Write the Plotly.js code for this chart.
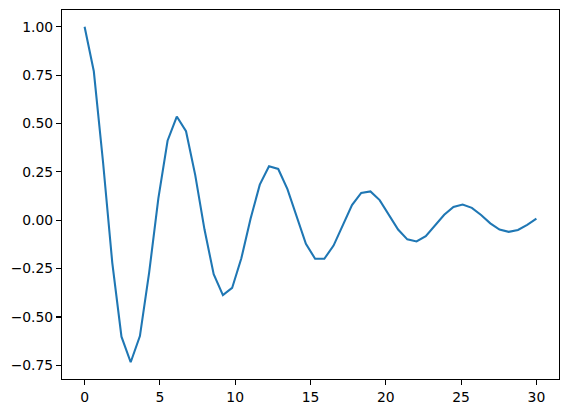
<!DOCTYPE html>
<html>
<head>
<meta charset="utf-8">
<script src="https://cdn.plot.ly/plotly-3.0.1.min.js"></script>
<style>
  html, body { margin: 0; padding: 0; background: #fff; }
  #chart { width: 568px; height: 413px; }
</style>
</head>
<body>
<div id="chart"></div>
<script>
/* ── Data: 50 samples ──────────────────────────────────────── */
const xs = [
  0.000, 0.612, 1.224, 1.837, 2.449, 3.061, 3.673, 4.286, 4.898, 5.510,
  6.122, 6.735, 7.347, 7.959, 8.571, 9.184, 9.796, 10.408, 11.020, 11.633,
  12.245, 12.857, 13.469, 14.082, 14.694, 15.306, 15.918, 16.531, 17.143, 17.755,
  18.367, 18.980, 19.592, 20.204, 20.816, 21.429, 22.041, 22.653, 23.265, 23.878,
  24.490, 25.102, 25.714, 26.327, 26.939, 27.551, 28.163, 28.776, 29.388, 30.000
];
const ys = [
  1.000, 0.770, 0.301, -0.219, -0.602, -0.734, -0.599, -0.271, 0.113, 0.411,
  0.536, 0.460, 0.233, -0.047, -0.279, -0.387, -0.350, -0.197, 0.008, 0.184,
  0.279, 0.265, 0.161, 0.014, -0.122, -0.199, -0.199, -0.131, -0.024, 0.078,
  0.141, 0.149, 0.104, 0.028, -0.048, -0.099, -0.110, -0.082, -0.029, 0.028,
  0.069, 0.081, 0.064, 0.027, -0.016, -0.048, -0.060, -0.050, -0.024, 0.008
];
const xTicks = [0, 5, 10, 15, 20, 25, 30];
const yTicks = [-0.75, -0.50, -0.25, 0.00, 0.25, 0.50, 0.75, 1.00];

/* ── Shared axis style (matplotlib-like) ──────────────────── */
const axisBase = {
  showline: true, linecolor: '#000', linewidth: 1.1, mirror: true,
  showgrid: false, zeroline: false,
  ticks: 'outside', ticklen: 4.9, tickwidth: 1.1, tickcolor: '#000',
  tickfont: { family: 'DejaVu Sans', size: 13.9, color: '#000' }
};

const traces = [{
  x: xs, y: ys,
  type: 'scatter', mode: 'lines',
  line: { color: '#1f77b4', width: 2.08 },
  hoverinfo: 'skip'
}];

const layout = {
  width: 568, height: 413,
  margin: { l: 62, r: 9.3, t: 10, b: 33.7 },
  paper_bgcolor: '#fff', plot_bgcolor: '#fff',
  showlegend: false,
  xaxis: Object.assign({}, axisBase, {
    range: [-1.5, 31.5],
    tickvals: xTicks,
    ticktext: xTicks.map(String)
  }),
  yaxis: Object.assign({}, axisBase, {
    range: [-0.8207, 1.0867],
    tickvals: yTicks,
    ticktext: yTicks.map(v => v.toFixed(2).replace('-', '\u2212'))
  })
};

Plotly.newPlot('chart', traces, layout, { displayModeBar: false, staticPlot: true });
</script>
</body>
</html>
